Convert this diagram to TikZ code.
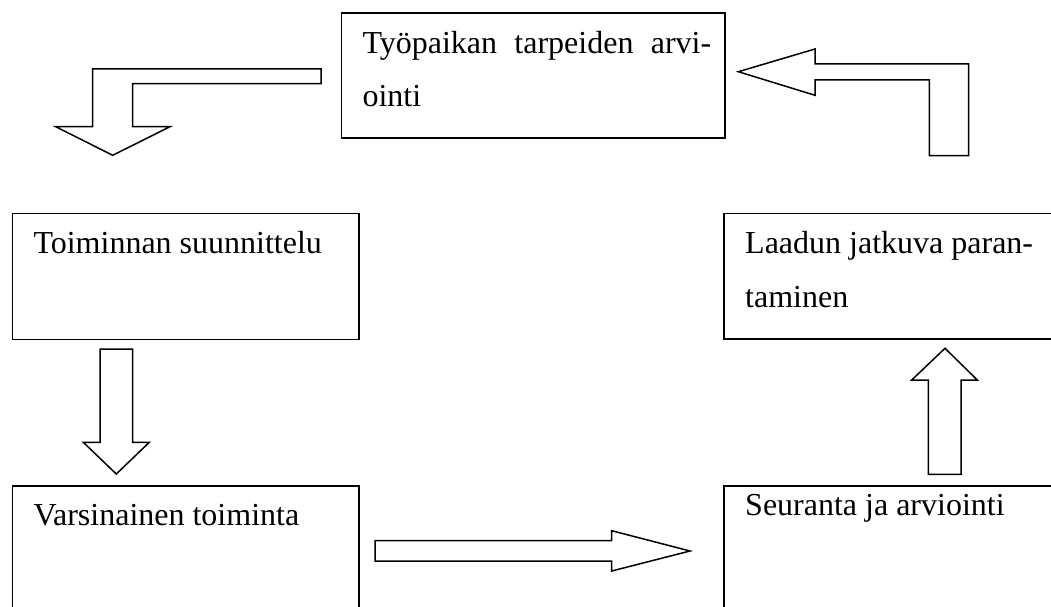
\documentclass[tikz,border=0pt]{standalone}
\usepackage{fontspec}
\setmainfont{Liberation Serif}
\tikzset{
  box/.style={draw, line width=1.7pt, rectangle, inner sep=0pt, anchor=north west},
  lbl/.style={anchor=base west, inner sep=0pt, font=\fontsize{32pt}{38pt}\selectfont},
  blockarrow/.style={draw, line width=1.5pt, line join=miter, fill=white}
}
\begin{document}
\begin{tikzpicture}[x=1pt,y=-1pt]
\useasboundingbox (0,0) rectangle (1051,607);
\clip (0,0) rectangle (1051,607);
\fill[white] (0,0) rectangle (1051,607);
% boxes
\node[box, minimum width=383.3pt, minimum height=125.3pt] (tarve) at (340.7,12) {};
\node[box, minimum width=346.6pt, minimum height=126pt] (suun) at (11.7,212.7) {};
\node[box, minimum width=346.6pt, minimum height=126pt] (vars) at (11.7,485) {};
\node[box, minimum width=346.6pt, minimum height=125.6pt] (laatu) at (723.3,212.7) {};
\node[box, minimum width=346.6pt, minimum height=126pt] (seur) at (723.3,485) {};
% texts
\node[lbl] (t1) at (362.3,53.3) {\makebox[348.7pt][s]{Työpaikan\hfill tarpeiden\hfill arvi-}};
\node[lbl] (t2) at (362.3,106.7) {ointi};
\node[lbl] (t3) at (33.3,253) {Toiminnan suunnittelu};
\node[lbl] (t4) at (33.3,525) {Varsinainen toiminta};
\node[lbl] (t5) at (745,253.3) {Laadun jatkuva paran-};
\node[lbl] (t6) at (745,307.3) {taminen};
\node[lbl] (t7) at (745,515) {Seuranta ja arviointi};
% block arrows
\draw[blockarrow] (321,69) -- (92.7,69) -- (92.7,126.7) -- (55.7,126.7) -- (112.7,155.3) -- (170,126.7) -- (132.7,126.7) -- (132.7,83.7) -- (321,83.7) -- cycle;
\draw[blockarrow] (738.3,71.7) -- (815,49) -- (815,64) -- (968.7,64) -- (968.7,155.7) -- (929.3,155.7) -- (929.3,80) -- (815,80) -- (815,95.3) -- cycle;
\draw[blockarrow] (100,349) -- (132.7,349) -- (132.7,442.3) -- (149.3,442.3) -- (116.3,474) -- (83.3,442.3) -- (100,442.3) -- cycle;
\draw[blockarrow] (375,540.7) -- (611.7,540.7) -- (611.7,530.7) -- (690,551) -- (611.7,571) -- (611.7,561) -- (375,561) -- cycle;
\draw[blockarrow] (928.3,474.3) -- (928.3,380) -- (911.7,380) -- (945,348.3) -- (977.3,380) -- (961,380) -- (961,474.3) -- cycle;
\end{tikzpicture}
\end{document}
